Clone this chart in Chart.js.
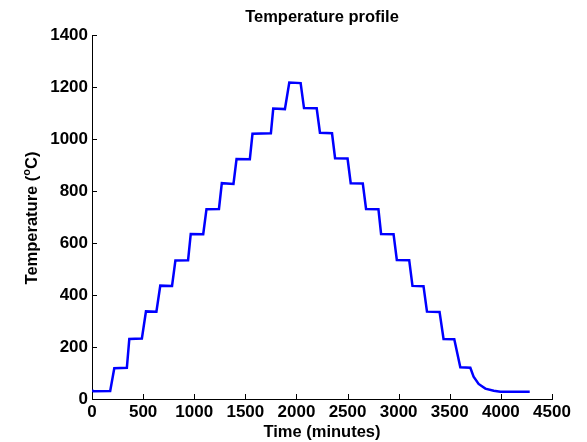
<!DOCTYPE html>
<html>
<head>
<meta charset="utf-8">
<script src="https://cdn.jsdelivr.net/npm/chart.js@4/dist/chart.umd.min.js"></script>
<style>
    html, body { margin: 0; padding: 0; background: #fff; }
    #graphic { display: block; }
</style>
</head>
<body>
<canvas id="graphic" width="587" height="442"></canvas>
<script>
/* Furnace log: corner points of each ramp and hold, in minutes and degrees C */
const timeMinutes = [
    0, 15, 178, 218, 341, 365, 488, 528, 630, 668,
    783, 816, 940, 966, 1088, 1120, 1242, 1270, 1384, 1414,
    1544, 1570, 1750, 1773, 1887, 1930, 2041, 2074, 2198, 2230,
    2348, 2378, 2500, 2531, 2649, 2681, 2802, 2828, 2950, 2982,
    3103, 3135, 3243, 3277, 3400, 3439, 3544, 3603, 3701, 3733,
    3782, 3848, 3930, 3995, 4282
];
const temperatureC = [
    33, 30, 31, 118, 120, 231, 233, 337, 336, 436,
    435, 533, 534, 635, 634, 730, 731, 830, 827, 923,
    922, 1020, 1022, 1117, 1115, 1217, 1215, 1119, 1118, 1024,
    1022, 926, 925, 830, 829, 731, 730, 635, 634, 535,
    534, 435, 434, 336, 335, 231, 230, 122, 120, 86,
    58, 40, 32, 28, 28
];

const xTicks = [0, 500, 1000, 1500, 2000, 2500, 3000, 3500, 4000, 4500];
const yTicks = [0, 200, 400, 600, 800, 1000, 1200, 1400];

const fontFamily = '"Liberation Sans", Arial, Helvetica, sans-serif';
const canva = document.querySelector('#graphic');

/* Plain numbers on the axes, no thousands separator */
const plainLabel = value => String(value);

/* Inward tick marks, drawn from the scales' own tick values */
const inwardTicks = {
    id: 'inwardTicks',
    afterDraw(chart) {
        const ctx = chart.ctx;
        const xScale = chart.scales.x;
        const yScale = chart.scales.y;
        const area = chart.chartArea;
        ctx.save();
        ctx.strokeStyle = '#000';
        ctx.lineWidth = 1;
        ctx.beginPath();
        xScale.ticks.forEach(tick => {
            const px = Math.round(xScale.getPixelForValue(tick.value)) + 0.5;
            ctx.moveTo(px, area.bottom);
            ctx.lineTo(px, area.bottom - 5);
        });
        yScale.ticks.forEach(tick => {
            const py = Math.round(yScale.getPixelForValue(tick.value)) + 0.5;
            ctx.moveTo(area.left, py);
            ctx.lineTo(area.left + 5, py);
        });
        ctx.stroke();
        ctx.restore();
    }
};

/* Y axis title with a superscript "o" before the C */
const yTitle = {
    id: 'yTitle',
    afterDraw(chart) {
        const ctx = chart.ctx;
        const mainFont = `bold 16.5px ${fontFamily}`;
        const supFont = `bold 11px ${fontFamily}`;
        const before = 'Temperature (';
        const sup = 'o';
        const after = 'C)';
        ctx.save();
        ctx.fillStyle = '#000';
        ctx.textBaseline = 'middle';
        ctx.textAlign = 'left';
        ctx.font = mainFont;
        const wBefore = ctx.measureText(before).width;
        const wAfter = ctx.measureText(after).width;
        ctx.font = supFont;
        const wSup = ctx.measureText(sup).width;
        const total = wBefore + wSup + wAfter;
        ctx.translate(32, 218);
        ctx.rotate(-Math.PI / 2);
        let x = -total / 2;
        ctx.font = mainFont;
        ctx.fillText(before, x, 0);
        x += wBefore;
        ctx.font = supFont;
        ctx.fillText(sup, x, -5);
        x += wSup;
        ctx.font = mainFont;
        ctx.fillText(after, x, 0);
        ctx.restore();
    }
};

const data = {
    datasets: [{
        label: 'Temperature',
        data: timeMinutes.map((t, i) => ({ x: t, y: temperatureC[i] })),
        borderColor: '#0000ff',
        borderWidth: 2.5,
        pointRadius: 0,
        tension: 0,
        fill: false
    }]
};

const config = {
    type: 'line',
    data: data,
    options: {
        responsive: false,
        animation: false,
        layout: {
            padding: { left: 0, right: 35, top: 0, bottom: 0 }
        },
        plugins: {
            legend: { display: false },
            tooltip: { enabled: false },
            title: {
                display: true,
                text: 'Temperature profile',
                fullSize: false,
                color: '#000',
                font: { family: fontFamily, size: 16.5, weight: 'bold' },
                padding: { top: 7.3, bottom: 7.9 }
            }
        },
        scales: {
            x: {
                type: 'linear',
                min: 0,
                max: 4500,
                afterBuildTicks: scale => {
                    scale.ticks = xTicks.map(v => ({ value: v }));
                },
                afterFit: scale => { scale.height = 43; },
                grid: { display: false, drawTicks: false },
                border: { display: true, color: '#000', width: 1 },
                ticks: {
                    color: '#000',
                    padding: 3,
                    maxRotation: 0,
                    autoSkip: false,
                    callback: plainLabel,
                    font: { family: fontFamily, size: 17, weight: 'bold' }
                },
                title: {
                    display: true,
                    text: 'Time (minutes)',
                    color: '#000',
                    padding: { top: 0, bottom: 0 },
                    font: { family: fontFamily, size: 16.5, weight: 'bold' }
                }
            },
            y: {
                type: 'linear',
                min: 0,
                max: 1400,
                afterBuildTicks: scale => {
                    scale.ticks = yTicks.map(v => ({ value: v }));
                },
                afterFit: scale => { scale.width = 92; },
                grid: { display: false, drawTicks: false },
                border: { display: true, color: '#000', width: 1 },
                ticks: {
                    color: '#000',
                    padding: 4,
                    autoSkip: false,
                    callback: plainLabel,
                    font: { family: fontFamily, size: 17, weight: 'bold' }
                }
            }
        }
    },
    plugins: [inwardTicks, yTitle]
};

new Chart(canva, config);
</script>
</body>
</html>
